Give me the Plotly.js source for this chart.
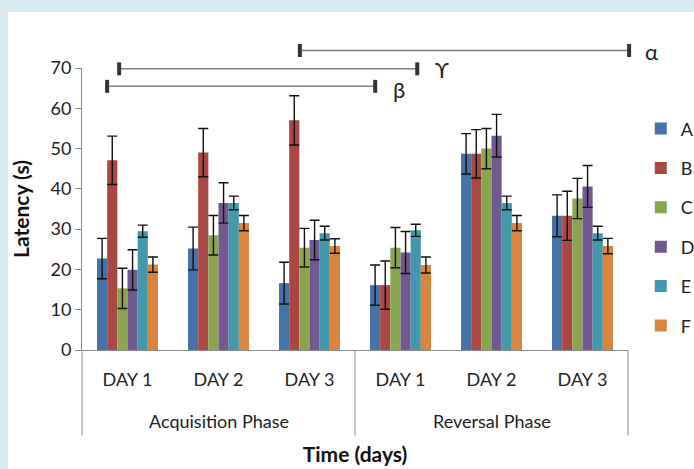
<!DOCTYPE html>
<html>
<head>
<meta charset="utf-8">
<script src="https://cdn.plot.ly/plotly-3.0.1.min.js"></script>
<style>
  html, body { margin: 0; padding: 0; background: #d9ecf2; width: 694px; height: 469px; overflow: hidden; }
  #chart { position: absolute; left: 8px; top: 12px; width: 686px; height: 457px; background: #ffffff; }
</style>
</head>
<body>
<div id="chart"></div>
<script>
// Categories
const phaseNames = ["Acquisition Phase", "Reversal Phase"];
const phases = ["Acquisition Phase", "Acquisition Phase", "Acquisition Phase",
                "Reversal Phase", "Reversal Phase", "Reversal Phase"];
const days = ["DAY 1", "DAY 2", "DAY 3", "DAY 1", "DAY 2", "DAY 3"];

// Series names and values (latency, s)
const seriesNames = ["A", "B", "C", "D", "E", "F"];
const valuesA = [22.7, 25.2, 16.6, 16.1, 48.7, 33.3];
const valuesB = [47.1, 49.0, 57.0, 16.1, 48.7, 33.3];
const valuesC = [15.3, 28.5, 25.4, 25.4, 50.0, 37.6];
const valuesD = [19.9, 36.5, 27.3, 24.2, 53.2, 40.6];
const valuesE = [29.5, 36.5, 29.0, 29.7, 36.5, 29.0];
const valuesF = [21.2, 31.5, 25.8, 21.1, 31.5, 25.8];

// Error bar half-lengths
const errA = [5.0, 5.3, 5.2, 5.0, 5.0, 5.2];
const errB = [6.0, 6.0, 6.1, 6.0, 6.0, 6.1];
const errC = [5.0, 4.9, 4.8, 5.0, 5.0, 5.0];
const errD = [5.0, 5.0, 4.9, 5.2, 5.3, 5.2];
const errE = [1.5, 1.7, 1.7, 1.5, 1.7, 1.7];
const errF = [1.9, 1.9, 1.8, 2.0, 1.9, 1.9];

// Significance labels
const sigLabels = ["α", "ϒ", "β"];

const allValues = [valuesA, valuesB, valuesC, valuesD, valuesE, valuesF];
const allErrs = [errA, errB, errC, errD, errE, errF];
const colors = ["#4572a7", "#aa4643", "#89a54e", "#71588f", "#4198af", "#db843d"];

const FONT = "Lato, 'Open Sans', sans-serif";
const xIdx = days.map((d, i) => i);

const traces = seriesNames.map((name, i) => ({
  type: "bar",
  name: name,
  legendgroup: name,
  x: xIdx,
  y: allValues[i],
  customdata: phases,
  marker: { color: colors[i], line: { width: 0 } },
  error_y: { type: "data", array: allErrs[i], visible: true, color: "#111", thickness: 1.4, width: 5 }
}));

// bracket geometry (paper coordinates)
const brackets = [
  { x0: 0.399, x1: 1.002, y: 1.062, lx: 1.043, ly: 1.058 },
  { x0: 0.068, x1: 0.614, y: 0.997, lx: 0.660, ly: 0.995 },
  { x0: 0.046, x1: 0.537, y: 0.935, lx: 0.580, ly: 0.925 }
];
const capH = 0.023;
const shapes = [];
const annotations = [];
brackets.forEach((b, i) => {
  shapes.push({ type: "line", xref: "paper", yref: "paper", x0: b.x0, x1: b.x1, y0: b.y, y1: b.y,
                line: { color: "#808080", width: 1.5 } });
  [b.x0, b.x1].forEach(xx => shapes.push({ type: "line", xref: "paper", yref: "paper",
                x0: xx, x1: xx, y0: b.y - capH, y1: b.y + capH, line: { color: "#333", width: 4 } }));
  annotations.push({ xref: "paper", yref: "paper", x: b.lx, y: b.ly, text: sigLabels[i], showarrow: false,
                     xanchor: "center", yanchor: "middle", font: { family: FONT, size: 22, color: "#222" } });
});

// phase dividers (left edge, between phases, right edge) and phase labels
[0, 0.5, 1].forEach(px => shapes.push({ type: "line", xref: "paper", yref: "paper",
  x0: px, x1: px, y0: 0, y1: -0.303, line: { color: "#8c8c8c", width: 1 } }));
phaseNames.forEach((p, k) => {
  const members = xIdx.filter(i => phases[i] === p);
  const mid = (members[0] + members[members.length - 1]) / 2;
  annotations.push({ xref: "x", yref: "paper", x: mid, y: -0.25, text: p, showarrow: false,
                     xanchor: "center", yanchor: "middle", font: { family: FONT, size: 18, color: "#222" } });
});

const layout = {
  width: 686, height: 457,
  margin: { l: 74, r: 66, t: 56.4, b: 118.5, autoexpand: false },
  paper_bgcolor: "#ffffff",
  plot_bgcolor: "#ffffff",
  barmode: "group",
  bargap: 0.33,
  bargroupgap: 0,
  showlegend: true,
  legend: { x: 1.0234, xanchor: "left", y: 0.85, yanchor: "top", traceorder: "grouped",
            tracegroupgap: 13, font: { family: FONT, size: 18, color: "#222" }, bgcolor: "rgba(0,0,0,0)" },
  xaxis: {
    range: [-0.5, 5.5],
    tickmode: "array", tickvals: xIdx, ticktext: days,
    showline: true, linecolor: "#8c8c8c", linewidth: 1,
    ticks: "", showgrid: false, zeroline: false,
    ticklabelstandoff: 13,
    automargin: true,
    tickfont: { family: FONT, size: 18, color: "#222" },
    title: { text: "<b>Time (days)</b>", standoff: 58, font: { family: FONT, size: 21, color: "#111" } }
  },
  yaxis: {
    range: [0, 70], dtick: 10, tick0: 0,
    showline: true, linecolor: "#8c8c8c", linewidth: 1,
    ticks: "outside", ticklen: 6, tickcolor: "#8c8c8c",
    showgrid: false, zeroline: false,
    automargin: true,
    tickfont: { family: FONT, size: 18, color: "#222" },
    title: { text: "<b>Latency (s)</b>", standoff: 17, font: { family: FONT, size: 21, color: "#111" } }
  },
  shapes: shapes,
  annotations: annotations
};

Plotly.newPlot("chart", traces, layout, { displayModeBar: false, staticPlot: true });
</script>
</body>
</html>
